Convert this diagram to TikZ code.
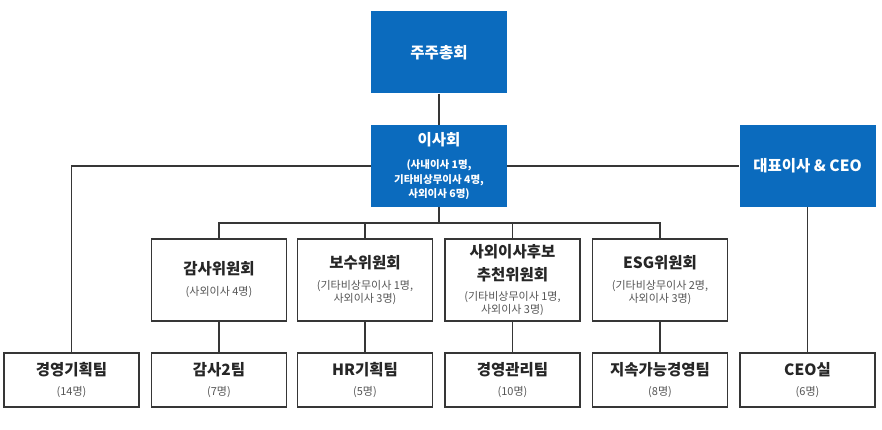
\documentclass[tikz,border=0pt]{standalone}
\usepackage{fontspec}
\setmainfont{Noto Sans CJK KR}
\definecolor{boardblue}{HTML}{0B6BBE}
\definecolor{linegray}{HTML}{363636}
\definecolor{subgray}{HTML}{555555}
\newcommand{\ttlf}{\fontsize{15.5}{21}\selectfont\bfseries}
\tikzset{
  bluebox/.style={fill=boardblue, text=white, minimum width=136pt, minimum height=82pt, inner sep=0pt, align=center, font=\fontsize{10.5}{14.5}\selectfont\bfseries},
  unitbox/.style={draw=linegray, fill=white, line width=1.2pt, minimum width=135pt, minimum height=82pt, inner sep=0pt, align=center, text=subgray, font=\fontsize{11}{13}\selectfont},
  teambox/.style={unitbox, minimum height=54pt},
  link/.style={draw=linegray, line width=1.1pt}
}
\begin{document}
\begin{tikzpicture}[x=1pt,y=1pt]
\useasboundingbox (0,0) rectangle (882,430);
% top
\node[bluebox] (gm) at (439,377.5) {{\ttlf 주주총회}};
\node[bluebox] (board) at (439,264) {{\ttlf 이사회}\\[9pt](사내이사 1명,\\기타비상무이사 4명,\\사외이사 6명)};
\node[bluebox] (ceo) at (807.5,264) {{\ttlf 대표이사 \& CEO}};
% committees
\node[unitbox] (audit) at (219,150) {{\ttlf\color{black!85}감사위원회}\\[8pt](사외이사 4명)};
\node[unitbox] (pay) at (365,150) {{\ttlf\color{black!85}보수위원회}\\[8pt](기타비상무이사 1명,\\사외이사 3명)};
\node[unitbox] (nom) at (512.5,150) {{\ttlf\color{black!85}사외이사후보}\\[7pt]{\ttlf\color{black!85}추천위원회}\\[7pt](기타비상무이사 1명,\\사외이사 3명)};
\node[unitbox] (esg) at (660,150) {{\ttlf\color{black!85}ESG위원회}\\[8pt](기타비상무이사 2명,\\사외이사 3명)};
% teams
\node[teambox] (plan) at (71.5,50) {{\ttlf\color{black!85}경영기획팀}\\[7pt](14명)};
\node[teambox] (audit2) at (219,50) {{\ttlf\color{black!85}감사2팀}\\[7pt](7명)};
\node[teambox] (hr) at (365,50) {{\ttlf\color{black!85}HR기획팀}\\[7pt](5명)};
\node[teambox] (mgmt) at (512.5,50) {{\ttlf\color{black!85}경영관리팀}\\[7pt](10명)};
\node[teambox] (sust) at (660,50) {{\ttlf\color{black!85}지속가능경영팀}\\[7pt](8명)};
\node[teambox] (office) at (807.5,50) {{\ttlf\color{black!85}CEO실}\\[7pt](6명)};
% links
\coordinate (bus) at (439,207);
\draw[link] (gm) -- (board);
\draw[link] (board) -- (ceo);
\draw[link] (board.west) -| (plan.north);
\draw[link] (board) -- (bus);
\draw[link] (audit.north) |- (bus) -| (esg.north);
\draw[link] (pay.north) -- (pay.north |- bus);
\draw[link] (nom.north) -- (nom.north |- bus);
\draw[link] (audit) -- (audit2);
\draw[link] (pay) -- (hr);
\draw[link] (nom) -- (mgmt);
\draw[link] (esg) -- (sust);
\draw[link] (ceo) -- (office);
\end{tikzpicture}
\end{document}
